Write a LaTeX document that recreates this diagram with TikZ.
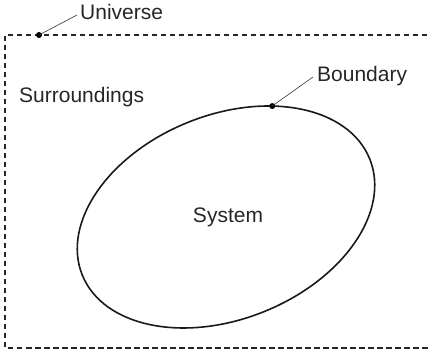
\documentclass[tikz,border=0pt]{standalone}
\usepackage{fontspec}
\setmainfont{Liberation Sans}
\begin{document}
\begin{tikzpicture}[x=1pt,y=1pt,
  lbl/.style={inner sep=0pt, text=black!85, font=\fontsize{21}{25}\selectfont},
  leader/.style={line width=0.6pt, black!80},
  dotmark/.style={circle, fill=black, inner sep=0pt, minimum size=6pt},
  bound/.style={line width=1.6pt, black!90},
  univ/.style={line width=1.1pt, black!85, dash pattern=on 5.5pt off 3.5pt}]
\useasboundingbox (0,0) rectangle (429,352);
\clip (0,0) rectangle (429,352);
% universe (dashed rectangle, open at the right edge)
\draw[univ] (445,317) -- (5,317) -- (5,4) -- (445,4);
% system boundary
\begin{scope}[shift={(226,135)}, rotate=22]
  \draw[bound] (0,0) ellipse [x radius=155pt, y radius=102pt];
  \coordinate (bpt) at (57:155pt and 102pt);
\end{scope}
\coordinate (upt) at (39,317);
\node[dotmark] (bdot) at (bpt) {};
\node[dotmark] (udot) at (upt) {};
% labels
\node[lbl, anchor=base west] (uni) at (80,332) {Universe};
\node[lbl, anchor=base west] (sur) at (19,249) {Surroundings};
\node[lbl, anchor=base west] (bnd) at (317,270) {Boundary};
\node[lbl, anchor=base] (sys) at (228,129) {System};
% leaders
\draw[leader] (udot.center) -- ([shift={(-3pt,5pt)}]uni.base west);
\draw[leader] (bdot.center) -- ([shift={(-4pt,5pt)}]bnd.base west);
\end{tikzpicture}
\end{document}
